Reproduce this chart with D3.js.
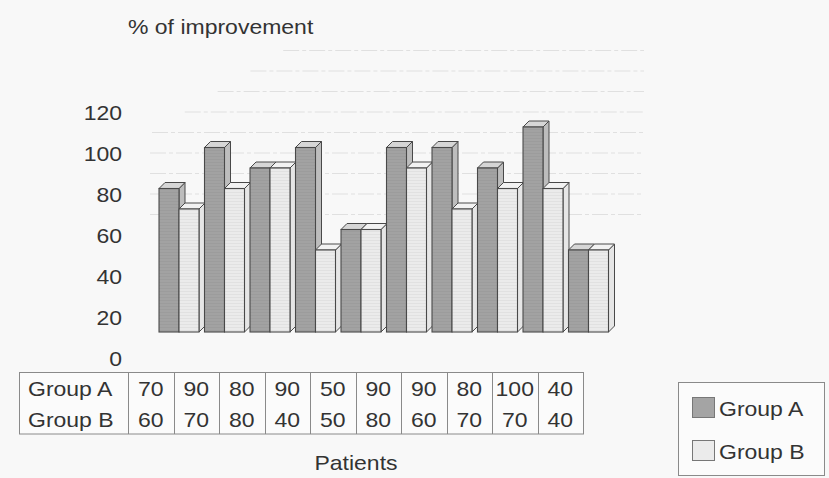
<!DOCTYPE html>
<html>
<head>
<meta charset="utf-8">
<script src="https://cdn.jsdelivr.net/npm/d3@7"></script>
<style>
  html, body { margin: 0; padding: 0; background: #f8f8f8; }
  svg { display: block; font-family: "Liberation Sans", Arial, Helvetica, sans-serif; }
</style>
</head>
<body>
<svg id="chart" width="829" height="478"></svg>
<script>
// Patients 1..10, improvement per group (%)
const patients = ["1", "2", "3", "4", "5", "6", "7", "8", "9", "10"];
const groupA = [70, 90, 80, 90, 50, 90, 90, 80, 100, 40];
const groupB = [60, 70, 80, 40, 50, 80, 60, 70, 70, 40];
const seriesNames = ["Group A", "Group B"];
const yTicks = [0, 20, 40, 60, 80, 100, 120];
const gridValues = [50, 60, 70, 80, 90, 100, 110, 120, 130];

const svg = d3.select("#chart");
const W = 829, H = 478;

// scales: columns of the data table double as the category band
const x = d3.scaleBand().domain(patients).range([128, 583]).padding(0);
const y = d3.scaleLinear().domain([0, 120]).range([360, 114]);

// oblique projection offsets
const floorDx = 31, floorDy = -28;   // bars sit back on the floor
const wallDy = -43;                  // back wall
const depth = 6;                     // bar thickness
const barW = 20;

// wide sans text: regular face stretched horizontally
const FONT = 20, STRETCH = 1.15, INK = "#333";
function label(parent, px, py, str, anchor) {
  return parent.append("text")
    .attr("transform", `translate(${px},${py}) scale(${STRETCH},1)`)
    .attr("text-anchor", anchor || "start")
    .attr("dominant-baseline", "central")
    .attr("font-size", FONT)
    .attr("fill", INK)
    .text(str);
}

const defs = svg.append("defs");
function stripes(id, bg, line) {
  const p = defs.append("pattern").attr("id", id)
    .attr("patternUnits", "userSpaceOnUse").attr("width", 6).attr("height", 3);
  p.append("rect").attr("width", 6).attr("height", 3).attr("fill", bg);
  p.append("line").attr("x1", 0).attr("x2", 6).attr("y1", 0.5).attr("y2", 0.5)
    .attr("stroke", line).attr("stroke-width", 0.6);
}
stripes("stripeA", "#a2a2a2", "#999");
stripes("stripeB", "#ebebeb", "#dadada");

const blur = defs.append("filter").attr("id", "soft");
blur.append("feGaussianBlur").attr("stdDeviation", 0.35);

svg.append("rect").attr("width", W).attr("height", H).attr("fill", "#f8f8f8");

// back wall gridlines (faint, dashed)
svg.append("g").selectAll("line").data(gridValues).join("line")
  .attr("x1", d => Math.max(150, 300 - (y(d) + wallDy - 40) * 1.6))
  .attr("x2", 644)
  .attr("y1", d => y(d) + wallDy)
  .attr("y2", d => y(d) + wallDy)
  .attr("stroke", "#e0e0e0")
  .attr("stroke-width", 1)
  .attr("stroke-dasharray", "16,3,4,3");

// y axis tick labels
const yAxis = svg.append("g");
yTicks.forEach(t => label(yAxis, 122, y(t) - 1, t, "end"));

label(svg, 128, 27, "% of improvement");

// 3D bars
const colors = [
  { front: "url(#stripeA)", top: "#d6d6d6", side: "#bdbdbd" },
  { front: "url(#stripeB)", top: "#f2f2f2", side: "#e6e6e6" }
];
const barsData = [];
patients.forEach((p, i) => {
  [groupA[i], groupB[i]].forEach((v, s) => {
    barsData.push({ p, s, v });
  });
});

const barG = svg.append("g").attr("filter", "url(#soft)");
const bars = barG.selectAll("g.bar").data(barsData).join("g").attr("class", "bar");
const edge = "#4a4a4a";

bars.each(function(d) {
  const g = d3.select(this);
  const x0 = x(d.p) + floorDx + d.s * barW;
  const x1 = x0 + barW;
  const yTop = y(d.v) + floorDy;
  const yBot = y(0) + floorDy;
  const c = colors[d.s];
  // side face
  g.append("path")
    .attr("d", `M${x1},${yTop}L${x1 + depth},${yTop - depth}L${x1 + depth},${yBot - depth}L${x1},${yBot}Z`)
    .attr("fill", c.side).attr("stroke", edge).attr("stroke-width", 1);
  // top face
  g.append("path")
    .attr("d", `M${x0},${yTop}L${x0 + depth},${yTop - depth}L${x1 + depth},${yTop - depth}L${x1},${yTop}Z`)
    .attr("fill", c.top).attr("stroke", edge).attr("stroke-width", 1);
  // front face
  g.append("rect")
    .attr("x", x0).attr("y", yTop)
    .attr("width", barW).attr("height", yBot - yTop)
    .attr("fill", c.front).attr("stroke", edge).attr("stroke-width", 1.1);
});

// data table
const tTop = 372.5, tBot = 434, tLeft = 19.5, tRight = x.range()[1] + 0.5;
const rowY = [389, 420];
const table = svg.append("g");
table.append("rect")
  .attr("x", tLeft).attr("y", tTop)
  .attr("width", tRight - tLeft).attr("height", tBot - tTop)
  .attr("fill", "#fbfbfb").attr("stroke", "#8a8a8a").attr("stroke-width", 1);
table.selectAll("line.col").data(patients).join("line").attr("class", "col")
  .attr("x1", d => Math.round(x(d)) + 0.5).attr("x2", d => Math.round(x(d)) + 0.5)
  .attr("y1", tTop).attr("y2", tBot)
  .attr("stroke", "#8a8a8a").attr("stroke-width", 1);
seriesNames.forEach((name, r) => label(table, 28, rowY[r], name));
[groupA, groupB].forEach((vals, r) => {
  patients.forEach((p, i) => label(table, x(p) + x.bandwidth() / 2, rowY[r], vals[i], "middle"));
});

label(svg, 356, 463, "Patients", "middle");

// legend
const leg = svg.append("g");
leg.append("rect")
  .attr("x", 678.5).attr("y", 382.5).attr("width", 146).attr("height", 93)
  .attr("fill", "#fbfbfb").attr("stroke", "#8a8a8a").attr("stroke-width", 1);
seriesNames.forEach((name, i) => {
  const yy = 409 + i * 43;
  leg.append("rect")
    .attr("x", 692.5).attr("y", yy - 11.5).attr("width", 22).attr("height", 20)
    .attr("fill", i === 0 ? "#a4a4a4" : "#ebebeb")
    .attr("stroke", "#777").attr("stroke-width", 1);
  label(leg, 719, yy, name);
});
</script>
</body>
</html>
